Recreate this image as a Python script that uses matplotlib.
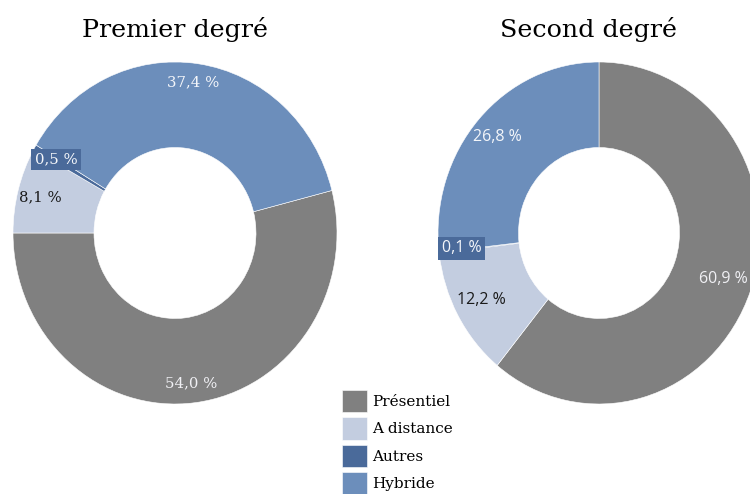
import matplotlib.pyplot as plt

# données
categories = ['Présentiel', 'A distance', 'Autres', 'Hybride']
premier = [54.0, 8.1, 0.5, 37.4]
second = [60.9, 12.2, 0.1, 26.8]
couleurs = ['#808080', '#c3cde0', '#4a6a9a', '#6c8ebb']

# position des étiquettes (rayon normalisé)
pos_premier = [(0.10, -0.88), (-0.83, 0.21), (-0.735, 0.43), (0.11, 0.88)]
pos_second = [(0.77, -0.27), (-0.73, -0.39), (-0.855, -0.09), (-0.63, 0.56)]
coul_texte = ['#f0f0f4', '#1a1a1a', '#f4f6fa', '#f4f6fa']

fig = plt.figure(figsize=(7.5, 4.94), dpi=100)
W, H = 750, 494


def donut(rect, valeurs, depart, positions, famille, taille, titre, titre_x):
    ax = fig.add_axes(rect)
    wedges, _ = ax.pie(valeurs, colors=couleurs, startangle=depart, counterclock=False,
                       wedgeprops=dict(width=0.5, edgecolor='white', linewidth=0.4))
    ax.set_aspect('auto')
    ax.set_xlim(-1, 1)
    ax.set_ylim(-1, 1)
    for i, v in enumerate(valeurs):
        txt = ('%.1f %%' % v).replace('.', ',')
        x, y = positions[i]
        box = None
        if categories[i] == 'Autres':
            box = dict(facecolor=couleurs[i], edgecolor='none', pad=2.5)
        ax.text(x, y, txt, ha='center', va='center', fontsize=taille, color=coul_texte[i],
                family=famille, bbox=box)
    fig.text(titre_x / W, 1 - 30 / H, titre, ha='center', va='center',
             fontsize=18.3, family='DejaVu Serif')
    return wedges


# premier degré : le présentiel finit à l'horizontale gauche
w1 = donut([13 / W, 90 / H, 324 / W, 342 / H], premier, 180 + premier[0] * 3.6,
           pos_premier, 'DejaVu Serif', 10.7, 'Premier degré', 175)
donut([438 / W, 90 / H, 322 / W, 342 / H], second, 90,
      pos_second, 'Open Sans', 11.5, 'Second degré', 588)

fig.legend(w1, categories, loc='upper left', bbox_to_anchor=(342 / W, 1 - 390 / H),
           frameon=False, borderpad=0, borderaxespad=0, handlelength=1.65, handleheight=1.85,
           handletextpad=0.3, labelspacing=0.35, prop={'family': 'DejaVu Serif', 'size': 11})

plt.savefig('out.png', dpi=100)
